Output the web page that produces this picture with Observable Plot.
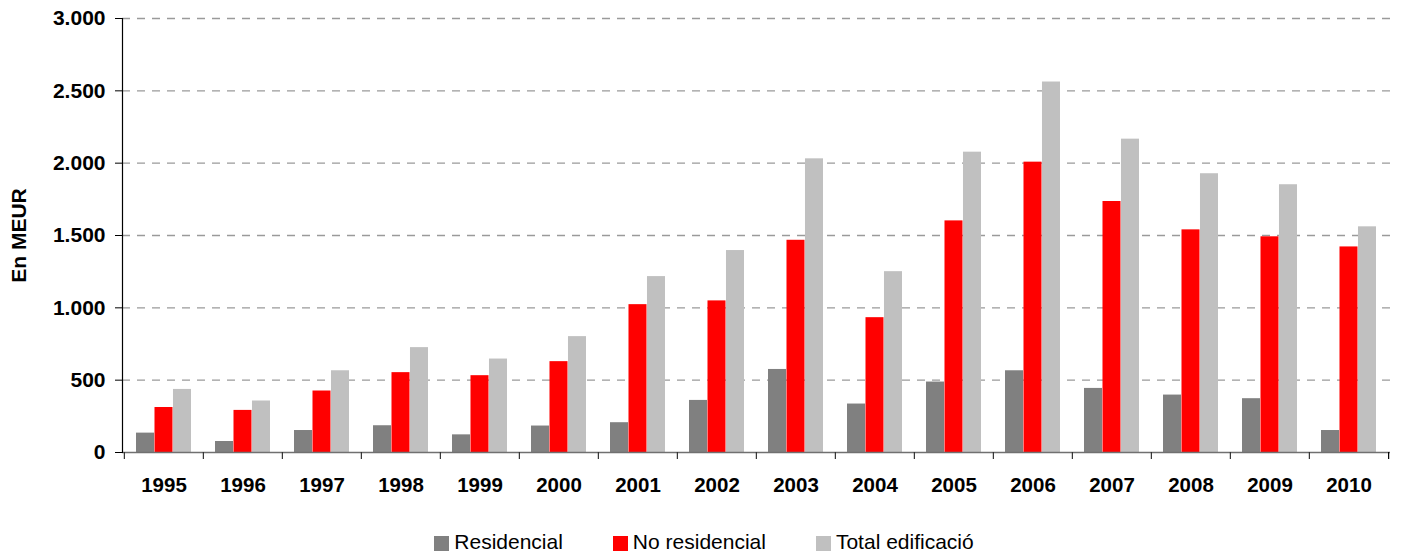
<!DOCTYPE html>
<html>
<head>
<meta charset="utf-8">
<script src="https://cdn.jsdelivr.net/npm/d3@7"></script>
<script src="https://cdn.jsdelivr.net/npm/@observablehq/plot@0.6"></script>
<style>
  html, body { margin: 0; padding: 0; background: #fff; }
  body { width: 1402px; height: 559px; overflow: hidden; font-family: "Liberation Sans", Arial, sans-serif; }
  #chart svg { display: block; }
  #legend { position: absolute; left: 0; top: 530px; width: 1402px; display: flex; justify-content: center; padding-left: 6px; box-sizing: border-box; font-size: 21px; color: #000; }
  .item { display: flex; align-items: center; margin: 0 25px; }
  .sw { width: 15px; height: 15px; margin-right: 5px; margin-top: 2px; }
</style>
</head>
<body>
<div id="chart"></div>
<div id="legend"></div>
<script>
const years = ["1995","1996","1997","1998","1999","2000","2001","2002","2003","2004","2005","2006","2007","2008","2009","2010"];
const seriesNames = ["Residencial", "No residencial", "Total edificació"];
const residencial = [134, 76, 152, 185, 122, 183, 206, 360, 574, 335, 487, 565, 443, 397, 372, 152];
const noResidencial = [311, 291, 425, 552, 531, 628, 1022, 1048, 1467, 932, 1601, 2007, 1735, 1539, 1491, 1421];
const totalEdificacio = [436, 356, 565, 725, 646, 801, 1216, 1396, 2030, 1250, 2076, 2561, 2166, 1927, 1851, 1560];
const seriesColors = ["#808080", "#ff0000", "#c0c0c0"];
const yTicks = [0, 500, 1000, 1500, 2000, 2500, 3000];
const gridTicks = [500, 1000, 1500, 2000, 2500, 3000];

const seriesValues = [residencial, noResidencial, totalEdificacio];
const rows = [];
seriesNames.forEach((s, i) => years.forEach((y, j) => rows.push({year: y, series: s, si: i, value: seriesValues[i][j]})));

const W = 1402, H = 500, mL = 122, mR = 12, mT = 18, mB = 48;
const pInner = 0.3, pOuter = 0.15;
const step = (W - mL - mR) / (years.length - pInner + 2 * pOuter);
const bw = step * (1 - pInner);
const third = bw / 3;
const fmt = d => d3.format(",")(d).replace(/,/g, ".");

const barMarks = seriesNames.map((s, i) => Plot.barY(rows.filter(r => r.si === i), {
  x: "year", y: "value", fill: seriesColors[i],
  insetLeft: i * third, insetRight: (2 - i) * third
}));

const chart = Plot.plot({
  width: W, height: H,
  marginLeft: mL, marginRight: mR, marginTop: mT, marginBottom: mB,
  style: {fontFamily: '"Liberation Sans", Arial, sans-serif', fontSize: "21px", fontWeight: "bold", color: "#000", background: "#fff"},
  x: {type: "band", domain: years, paddingInner: pInner, paddingOuter: pOuter, align: 0.5},
  y: {domain: [0, 3000], range: [H - mB, mT]},
  marks: [
    Plot.ruleY(gridTicks, {stroke: "#9a9a9a", strokeWidth: 1.3, strokeDasharray: "8,7"}),
    ...barMarks,
    Plot.ruleY([0], {stroke: "#707070", strokeWidth: 1.5}),
    Plot.frame({anchor: "left", stroke: "#000", strokeWidth: 1.2}),
    Plot.ruleX(years, {x: d => d, dx: -step / 2, insetTop: H - mT - mB - 7, dy: 7, stroke: "#333", strokeWidth: 1.2}),
    Plot.ruleX([years[years.length - 1]], {x: d => d, dx: step / 2, insetTop: H - mT - mB - 7, dy: 7, stroke: "#000", strokeWidth: 1.2}),
    Plot.axisX({tickSize: 0, tickPadding: 25, fontSize: 20.5, fontWeight: "bold", label: null}),
    Plot.axisY({ticks: yTicks, tickFormat: fmt, tickSize: 7, tickPadding: 10, fontSize: 21, fontWeight: "bold",
      label: "En MEUR", labelAnchor: "center", labelArrow: "none", labelOffset: 111})
  ]
});
document.getElementById("chart").appendChild(chart);

const legend = document.getElementById("legend");
seriesNames.forEach((s, i) => {
  const it = document.createElement("div");
  it.className = "item";
  const sw = document.createElement("div");
  sw.className = "sw";
  sw.style.background = seriesColors[i];
  const t = document.createElement("span");
  t.textContent = s;
  it.appendChild(sw);
  it.appendChild(t);
  legend.appendChild(it);
});
</script>
</body>
</html>
